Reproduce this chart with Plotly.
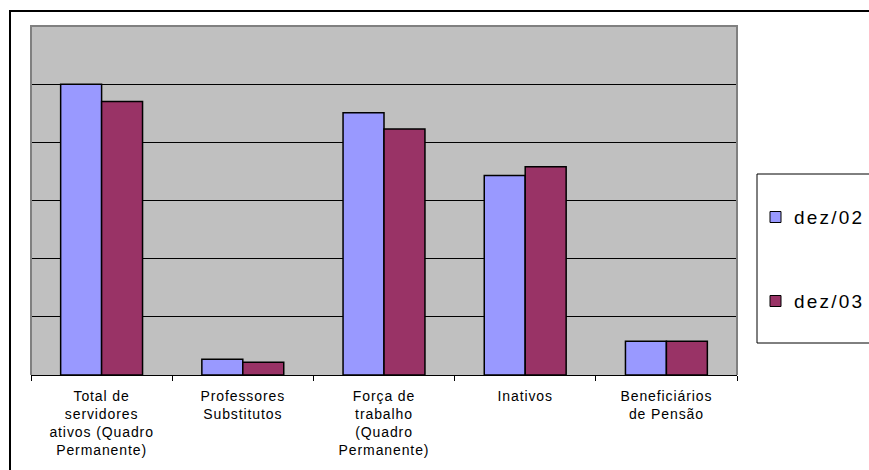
import plotly.graph_objects as go

# Categories and series (values in units of 1 000)
categories = [
    "Total de servidores ativos (Quadro Permanente)",
    "Professores Substitutos",
    "Força de trabalho (Quadro Permanente)",
    "Inativos",
    "Beneficiários de Pensão",
]
tick_labels = [
    "Total de<br>servidores<br>ativos (Quadro<br>Permanente)",
    "Professores<br>Substitutos",
    "Força de<br>trabalho<br>(Quadro<br>Permanente)",
    "Inativos",
    "Beneficiários<br>de Pensão",
]
series_names = ["dez/02", "dez/03"]
dez02 = [5000, 270, 4510, 3430, 580]
dez03 = [4700, 220, 4230, 3580, 580]
series_values = [dez02, dez03]
series_colors = ["#9999FF", "#993366"]

W, H = 869, 470
ML, MR, MT, MB = 31, 132, 26, 95
PW = W - ML - MR
PH = H - MT - MB


def px_x(p):
    return (p - ML) / PW


def px_y(p):
    return (H - MB - p) / PH


def spaced(text, ls):
    return f'<span style="letter-spacing:{ls}px">{text}</span>'


fig = go.Figure()
for name, vals, col in zip(series_names, series_values, series_colors):
    fig.add_trace(go.Bar(
        x=categories, y=vals, name=name,
        marker=dict(color=col, line=dict(color="black", width=1.5)),
        showlegend=False,
    ))

shapes = [
    # outer chart frame
    dict(type="rect", xref="paper", yref="paper",
         x0=px_x(10), x1=px_x(W + 20), y0=px_y(H + 20), y1=px_y(11),
         line=dict(color="black", width=2), fillcolor="rgba(0,0,0,0)"),
    # plot area edges (left, top, right)
    dict(type="path", xref="paper", yref="paper",
         path="M0,0 L0,1 L1,1 L1,0",
         line=dict(color="#808080", width=2)),
    # legend frame
    dict(type="rect", xref="paper", yref="paper",
         x0=px_x(757), x1=px_x(W + 20), y0=px_y(343), y1=px_y(174),
         line=dict(color="black", width=1), fillcolor="white"),
]
annotations = []
legend_rows = [217, 301]
for name, col, yc in zip(series_names, series_colors, legend_rows):
    shapes.append(dict(type="rect", xref="paper", yref="paper",
                       x0=px_x(770), x1=px_x(781),
                       y0=px_y(yc + 5.5), y1=px_y(yc - 5.5),
                       line=dict(color="black", width=1), fillcolor=col))
    annotations.append(dict(xref="paper", yref="paper",
                            x=px_x(792), y=px_y(yc),
                            xanchor="left", yanchor="middle",
                            text=spaced(name, 2.2), showarrow=False,
                            font=dict(family="Liberation Sans, Arial", size=19, color="black")))

fig.update_layout(
    width=W, height=H,
    margin=dict(l=ML, r=MR, t=MT, b=MB),
    paper_bgcolor="white",
    plot_bgcolor="#C0C0C0",
    barmode="group",
    bargap=0.42,
    bargroupgap=0,
    shapes=shapes,
    annotations=annotations,
    showlegend=False,
    xaxis=dict(
        type="category",
        tickmode="array",
        tickvals=categories,
        ticktext=[spaced(t, 0.9) for t in tick_labels],
        tickson="boundaries",
        ticks="outside", ticklen=5, tickcolor="black", tickwidth=1,
        ticklabelstandoff=8,
        showline=True, linecolor="black", linewidth=1,
        showgrid=False, zeroline=False,
        tickfont=dict(family="Liberation Sans, Arial", size=14, color="black"),
    ),
    yaxis=dict(
        range=[0, 6000], dtick=1000,
        showgrid=True, gridcolor="black", gridwidth=1,
        showticklabels=False, zeroline=False, showline=False, ticks="",
    ),
)

fig.write_html("out.html")
